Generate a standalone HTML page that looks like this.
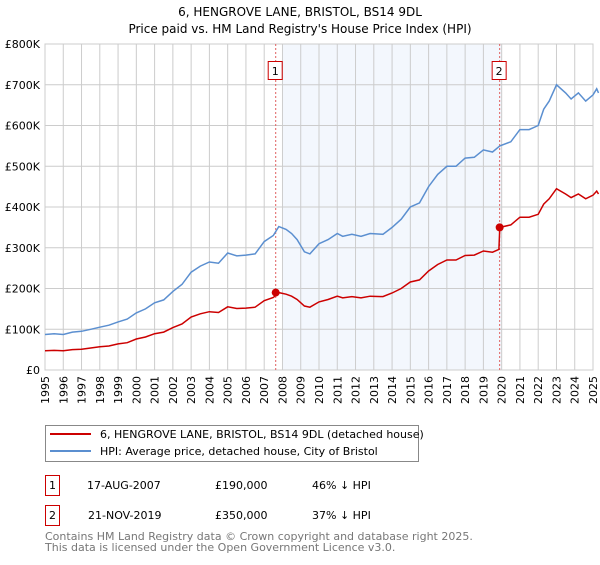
<!DOCTYPE html>
<html><head><meta charset="utf-8"><style>
body{margin:0;background:#fff;}
svg text{font-family:"DejaVu Sans","Liberation Sans",sans-serif;}
</style></head><body>
<svg id="chart" width="600" height="560" viewBox="0 0 600 560" xmlns="http://www.w3.org/2000/svg">
<text x="300" y="16" font-size="12" text-anchor="middle">6, HENGROVE LANE, BRISTOL, BS14 9DL</text>
<text x="300" y="33" font-size="12" text-anchor="middle">Price paid vs. HM Land Registry's House Price Index (HPI)</text>
<g id="plot"></g>
<g>
<rect x="45.5" y="425.5" width="373" height="36" fill="#fff" stroke="#888"/>
<line x1="50" y1="434" x2="91" y2="434" stroke="#cc0000" stroke-width="2"/>
<text x="100" y="438" font-size="11">6, HENGROVE LANE, BRISTOL, BS14 9DL (detached house)</text>
<line x1="50" y1="451" x2="91" y2="451" stroke="#5b8fd0" stroke-width="2"/>
<text x="100" y="455" font-size="11">HPI: Average price, detached house, City of Bristol</text>
</g>
<g>
<rect x="45.5" y="475.5" width="14" height="20" fill="#fff" stroke="#cc0000"/>
<text x="52.5" y="489" font-size="11" text-anchor="middle">1</text>
<text x="87" y="489" font-size="11">17-AUG-2007</text>
<text x="215" y="489" font-size="11">£190,000</text>
<text x="312" y="489" font-size="11">46% ↓ HPI</text>
</g>
<g>
<rect x="45.5" y="505.5" width="14" height="20" fill="#fff" stroke="#cc0000"/>
<text x="52.5" y="519" font-size="11" text-anchor="middle">2</text>
<text x="88" y="519" font-size="11">21-NOV-2019</text>
<text x="215" y="519" font-size="11">£350,000</text>
<text x="312" y="519" font-size="11">37% ↓ HPI</text>
</g>
<text x="45" y="540" font-size="11" fill="#777">Contains HM Land Registry data © Crown copyright and database right 2025.</text>
<text x="45" y="551" font-size="11" fill="#777">This data is licensed under the Open Government Licence v3.0.</text>
</svg>
<script>
const dates=[1995.0,1995.5,1996.0,1996.5,1997.0,1997.5,1998.0,1998.5,1999.0,1999.5,2000.0,2000.5,2001.0,2001.5,2002.0,2002.5,2003.0,2003.5,2004.0,2004.5,2005.0,2005.5,2006.0,2006.5,2007.0,2007.5,2007.8,2008.2,2008.5,2008.8,2009.2,2009.5,2010.0,2010.5,2011.0,2011.3,2011.8,2012.3,2012.8,2013.5,2014.0,2014.5,2015.0,2015.5,2016.0,2016.5,2017.0,2017.5,2018.0,2018.5,2019.0,2019.5,2019.85,2019.9,2020.5,2021.0,2021.5,2022.0,2022.3,2022.6,2023.0,2023.5,2023.8,2024.2,2024.6,2025.0,2025.2,2025.3];
const hpiValues=[87,89,87,93,95,100,105,110,118,125,140,150,165,172,193,210,240,255,265,262,287,280,282,285,315,330,352,345,335,320,290,285,310,320,335,328,333,328,335,333,350,370,400,410,450,480,500,500,520,522,540,535,548,550,560,590,590,600,640,660,700,680,665,680,660,675,690,680];
const priceValues=[47,48,47,50,51,54,57,59,64,67,76,81,89,93,104,113,130,138,143,141,155,151,152,154,170,178,190,186,181,173,157,154,167,173,181,177,180,177,181,180,189,200,216,221,243,259,270,270,281,282,292,289,296,350,356,375,375,382,407,420,445,432,423,432,420,429,439,432];
const saleDates=[2007.63,2019.89];
const salePrices=[190,350];
const saleLabels=['1','2'];
const yTicks=[0,100,200,300,400,500,600,700,800];
const yTickLabels=['£0','£100K','£200K','£300K','£400K','£500K','£600K','£700K','£800K'];
const xTicks=[1995,1996,1997,1998,1999,2000,2001,2002,2003,2004,2005,2006,2007,2008,2009,2010,2011,2012,2013,2014,2015,2016,2017,2018,2019,2020,2021,2022,2023,2024,2025];

const L=45,R=593,T=44,B=370;
const X=v=>L+(v-1995)/30*(R-L);
const Y=v=>B-v/800*(B-T);
const NS='http://www.w3.org/2000/svg';
const g=document.getElementById('plot');
function mk(t,a,p){const e=document.createElementNS(NS,t);for(const k in a)e.setAttribute(k,a[k]);(p||g).appendChild(e);return e;}

const shade=mk('rect',{x:X(2008),y:T,width:X(2020)-X(2008),height:B-T,fill:'#eef3fc',opacity:'0.7'});



yTicks.forEach((v,i)=>{
 const l=mk('line',{x1:L,x2:R,y1:Y(v),y2:Y(v),stroke:'#ccc'});
 
 
 const t=mk('text',{x:L-5,y:Y(v)+4,'font-size':11,'text-anchor':'end'});
 t.textContent=yTickLabels[i];
 
 
});
xTicks.forEach(v=>{
 const l=mk('line',{x1:X(v),x2:X(v),y1:T,y2:B,stroke:'#ccc'});
 
 
 const t=mk('text',{x:0,y:0,'font-size':11,'text-anchor':'end',transform:`translate(${X(v)+4},${B+6}) rotate(-90)`});
 t.textContent=v;
 
 
});
const fr=mk('rect',{x:L,y:T,width:R-L,height:B-T,fill:'none',stroke:'#ccc'});



saleDates.forEach((d,i)=>{
 const l=mk('line',{x1:X(d),x2:X(d),y1:T,y2:B,stroke:'#e06060','stroke-dasharray':'2,2'});
 
 
 const r=mk('rect',{x:X(d)-7.5,y:61.5,width:14,height:18,fill:'#fff',stroke:'#cc0000'});
 
 
 const t=mk('text',{x:X(d)-0.5,y:75,'font-size':11,'text-anchor':'middle'});
 t.textContent=saleLabels[i];
 
 
});

function path(vals){return vals.map((v,i)=>(i?'L':'M')+X(dates[i]).toFixed(1)+','+Y(v).toFixed(1)).join('');}
const hp=mk('path',{d:path(hpiValues),fill:'none',stroke:'#5b8fd0','stroke-width':1.5});


const pp=mk('path',{d:path(priceValues),fill:'none',stroke:'#cc0000','stroke-width':1.5});


saleDates.forEach((d,i)=>{
 const c=mk('circle',{cx:X(d),cy:Y(salePrices[i]),r:4,fill:'#cc0000'});
 
 
});
</script>
</body></html>
